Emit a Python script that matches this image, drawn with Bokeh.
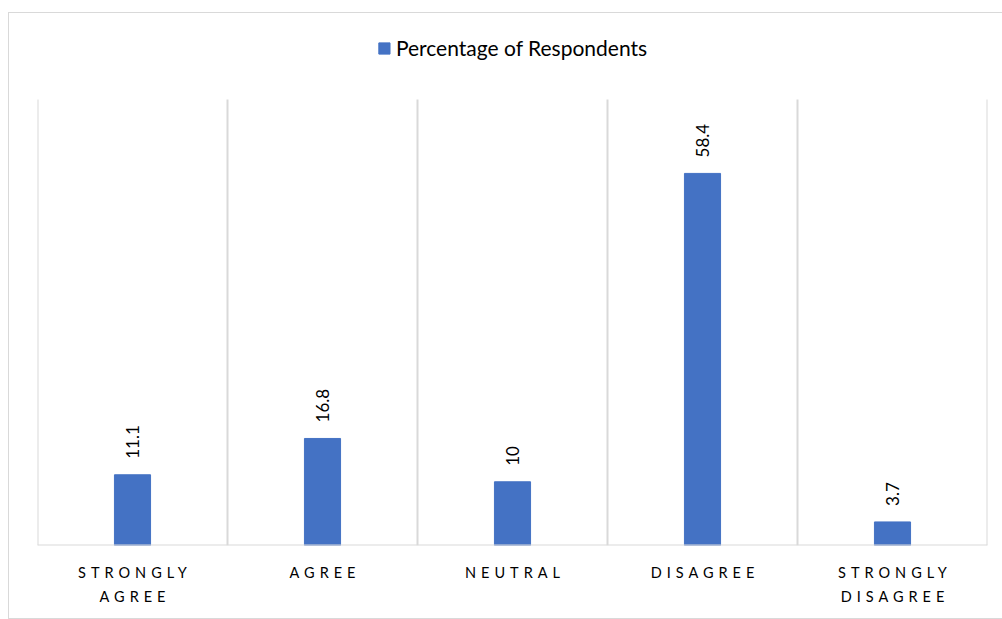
from bokeh.plotting import figure
from bokeh.layouts import column
from bokeh.models import (ColumnDataSource, Legend, LegendItem, Range1d, LabelSet, Span)
from bokeh.core.properties import value
from bokeh.embed import file_html
from bokeh.resources import INLINE

categories = ["STRONGLY\nAGREE", "AGREE", "NEUTRAL", "DISAGREE", "STRONGLY\nDISAGREE"]
values = [11.1, 16.8, 10, 58.4, 3.7]
value_labels = ["11.1", "16.8", "10", "58.4", "3.7"]
series_name = "Percentage of Respondents"
y_max = 70

xs = [i + 0.5 for i in range(len(categories))]
src = ColumnDataSource(dict(x=xs, top=values, lab=value_labels))
bounds = list(range(len(categories) + 1))

FONT = "Lato"
BLUE = "#4472c4"
GRID = "#d9d9d9"
LS = 5  # letter spacing of category labels (px)

x_range = Range1d(0, len(categories))

# ---- main plot (bars) ----
p = figure(width=993, height=533, output_backend="svg", toolbar_location=None,
           x_range=x_range, y_range=Range1d(0, y_max * 532 / 446),
           min_border_left=28, min_border_right=15, min_border_top=0, min_border_bottom=1)
p.outline_line_color = None
p.background_fill_color = "white"
p.xaxis.visible = False
p.yaxis.visible = False
p.grid.visible = False

# vertical gridlines at category boundaries
p.segment(x0=bounds, x1=bounds, y0=[0] * len(bounds), y1=[y_max] * len(bounds),
          line_color=GRID, line_width=2)
# category axis baseline
p.add_layout(Span(location=0, dimension="width", line_color=GRID, line_width=2))

r = p.vbar(x="x", top="top", width=0.19, bottom=0, source=src, color=BLUE)

labels = LabelSet(x="x", y="top", text="lab", source=src, angle=1.5708,
                  text_align="left", text_baseline="middle", y_offset=16,
                  text_font=value(FONT), text_font_size="17px", text_color="#000000")
p.add_layout(labels)

legend = Legend(items=[LegendItem(label=series_name, renderers=[r])],
                location="top_center", orientation="horizontal",
                label_text_font=FONT, label_text_font_size="21px", label_text_color="#000000",
                border_line_color=None, glyph_width=14, glyph_height=14,
                margin=22, padding=0, label_standoff=5)
legend.background_fill_alpha = 0
p.add_layout(legend)

# ---- category labels strip (letter-spaced, like the original) ----
p2 = figure(width=993, height=72, output_backend="svg", toolbar_location=None,
            x_range=x_range, y_range=Range1d(0, 1),
            min_border_left=28, min_border_right=15, min_border_top=0, min_border_bottom=0)
p2.outline_line_color = None
p2.axis.visible = False
p2.grid.visible = False
p2.styles = {"letter-spacing": "%dpx" % LS}

line1 = [c.split("\n")[0] for c in categories]
line2 = [c.split("\n")[1] if "\n" in c else "" for c in categories]
for lines, dy in ((line1, 17), (line2, 41)):
    p2.text(x=xs, y=[1] * len(xs), text=lines,
            x_offset=[-(len(s) - 1) * LS / 2 for s in lines], y_offset=dy,
            text_align="center", text_baseline="top",
            text_font=value(FONT), text_font_size="14.5px", text_color="#000000")

layout = column(p, p2, spacing=0)
layout.margin = (12, 0, 0, 8)
layout.styles = {"border": "1px solid #d9d9d9"}

open("out.html", "w").write(file_html(layout, INLINE))
